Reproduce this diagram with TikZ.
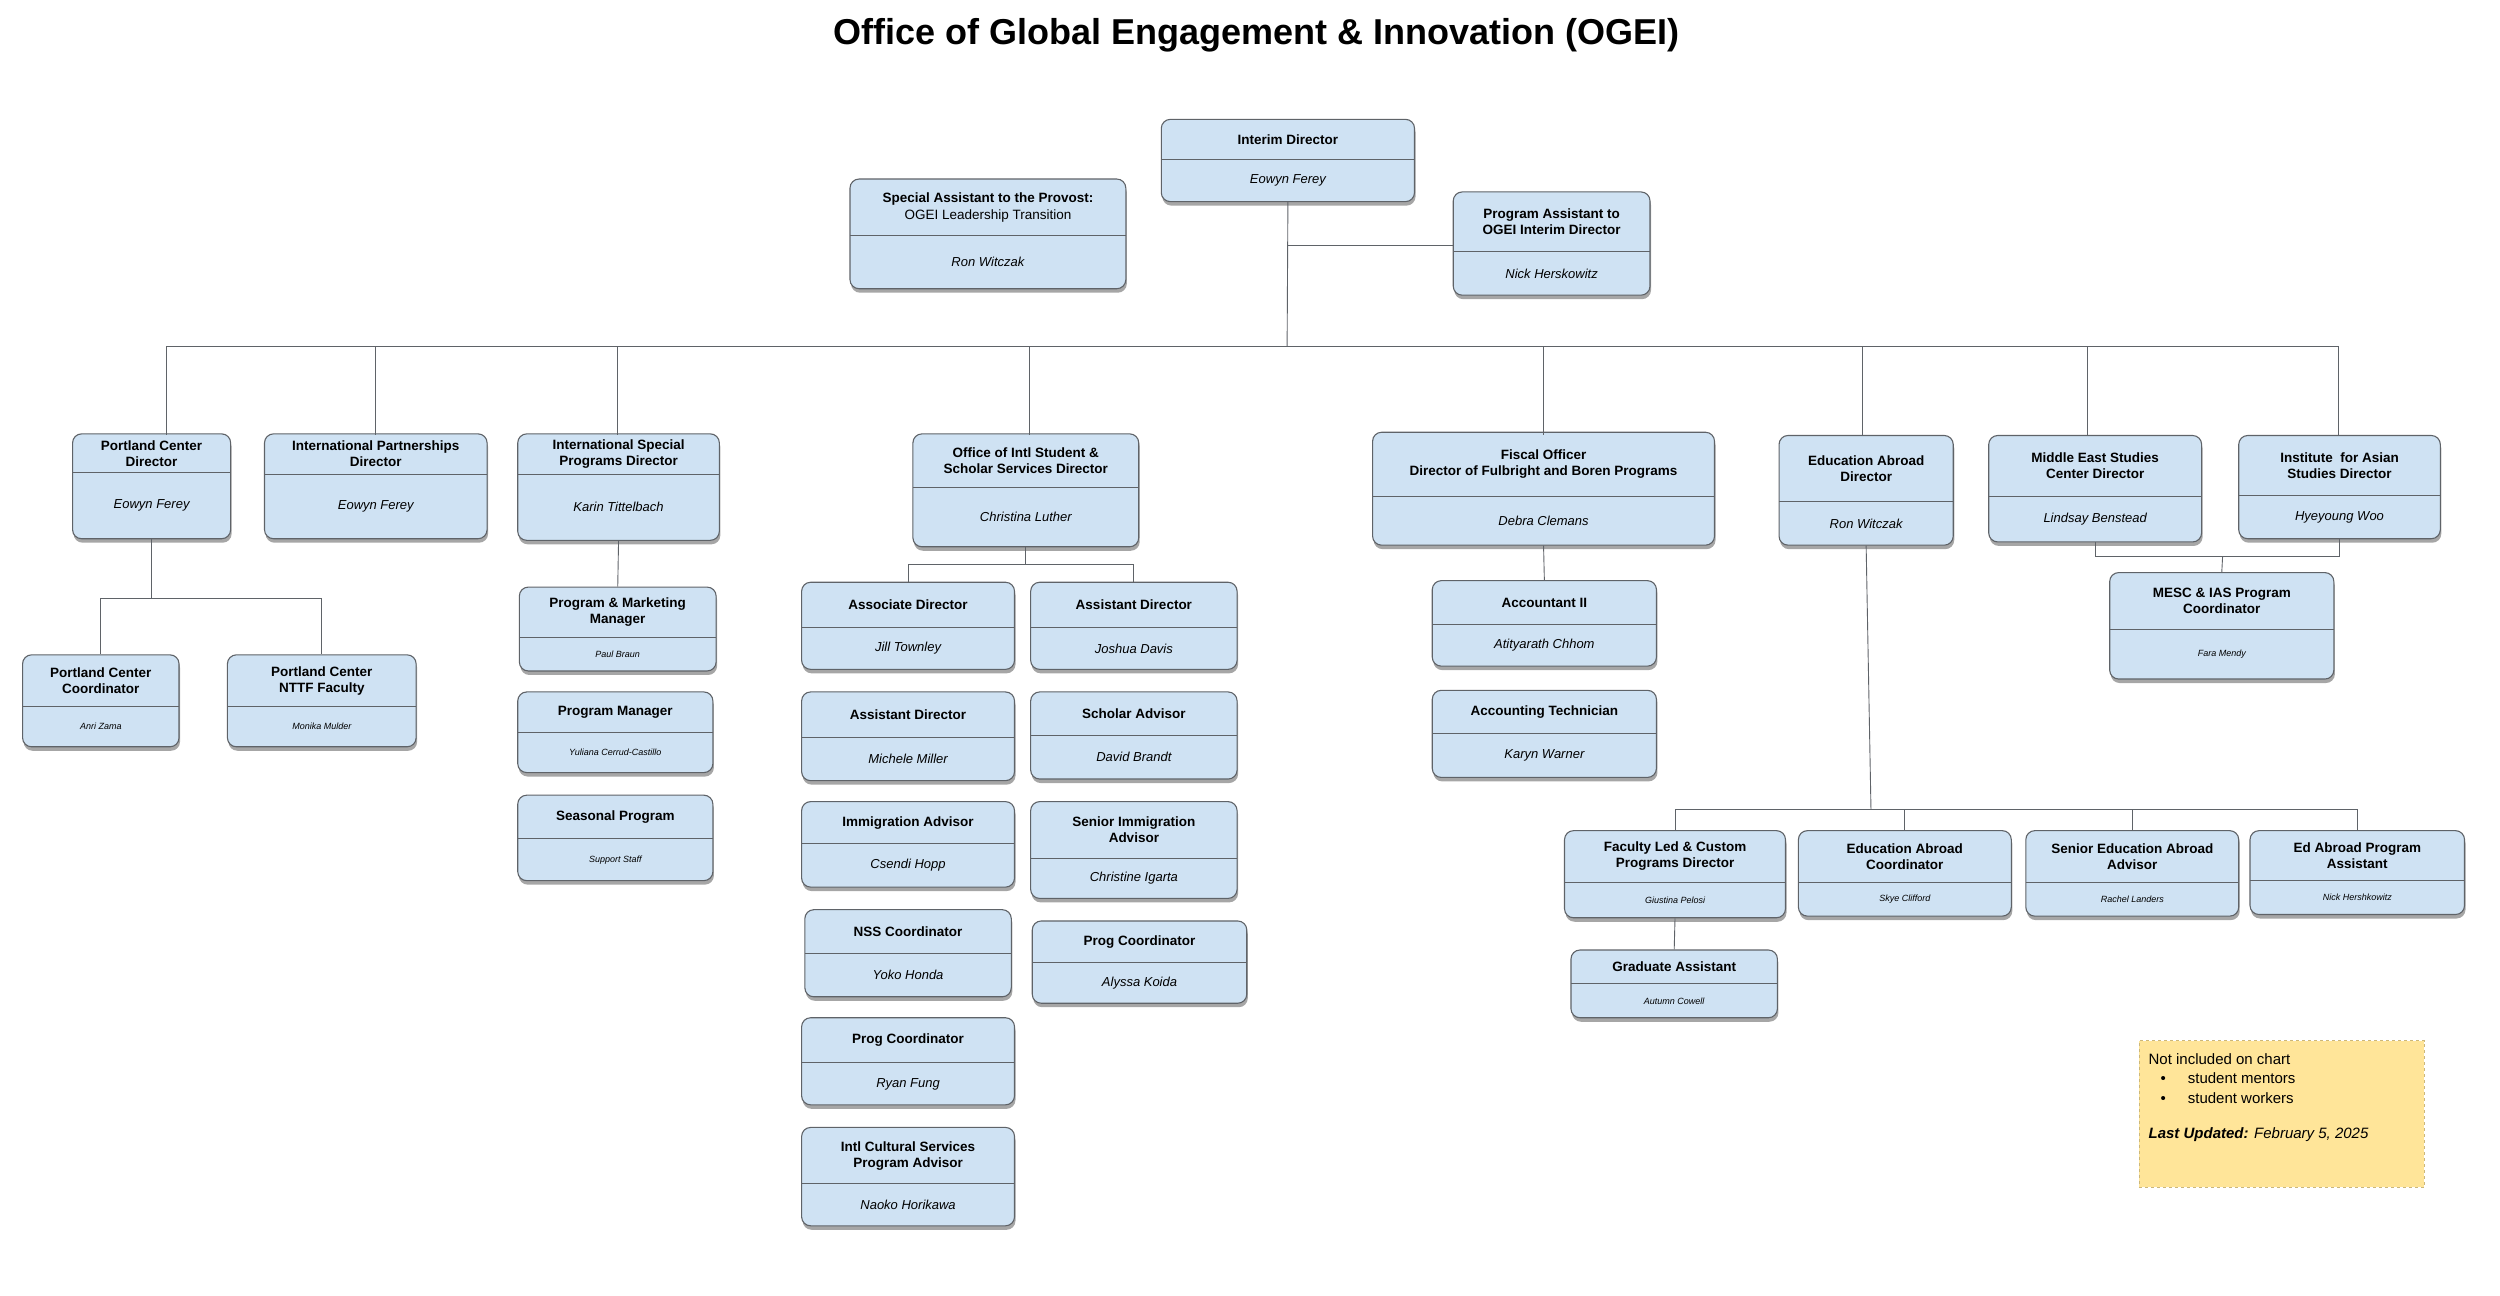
\documentclass[tikz,border=0pt]{standalone}
\usepackage{fontspec}
\setmainfont{Liberation Sans}
\usetikzlibrary{fit,shadows}
\definecolor{boxfill}{HTML}{CFE2F3}
\definecolor{boxline}{HTML}{5F6368}
\definecolor{notefill}{HTML}{FFE599}
\tikzset{
  obx/.style={draw=boxline,line width=1.1pt,fill=boxfill,rounded corners=9pt,inner sep=0pt,
    drop shadow={shadow xshift=1pt,shadow yshift=-4pt,opacity=0.35,fill=black}},
  ttl/.style={align=center,font=\fontsize{13.5}{16}\selectfont\bfseries,inner sep=0pt},
  psn/.style={align=center,font=\fontsize{13}{15}\selectfont\itshape,inner sep=0pt},
  cn/.style={draw=boxline,line width=0.9pt},
}
\newcommand\obox[8]{%
  \coordinate (#1-a) at (#2,#3);
  \coordinate (#1-b) at (#4,#5);
  \node[obx,fit=(#1-a)(#1-b)] (#1) {};
  \draw[draw=boxline,line width=1pt] (#2,#6) -- (#4,#6);
  \pgfmathsetmacro\mx{(#2+#4)/2}%
  \pgfmathsetmacro\ta{(#3+#6)/2}%
  \pgfmathsetmacro\tb{(#6+#5)/2}%
  \node[ttl] (#1-t) at (\mx,\ta) {#7};
  \node[psn] (#1-p) at (\mx,\tb) {#8};
}
\begin{document}
\begin{tikzpicture}[x=1.613pt,y=-1.613pt]
\useasboundingbox (0,0) rectangle (1550,803.5);
\node[font=\fontsize{36}{40}\selectfont\bfseries] (title) at (779,22) {Office of Global Engagement \& Innovation (OGEI)};

\obox{int}{720}{74}{877}{125}{99}{Interim Director}{Eowyn Ferey}
\obox{spa}{527}{111}{698}{179}{146}{Special Assistant to the Provost:\\[1pt]\mdseries OGEI Leadership Transition}{Ron Witczak}
\obox{pa}{901}{119}{1023}{183}{156}{Program Assistant to\\OGEI Interim Director}{Nick Herskowitz}

\obox{pcd}{45}{269}{143}{334}{293}{Portland Center\\Director}{Eowyn Ferey}
\obox{ipd}{164}{269}{302}{334}{294}{International Partnerships\\Director}{Eowyn Ferey}
\obox{isp}{321}{269}{446}{335}{294}{International Special\\Programs Director}{Karin Tittelbach}
\obox{oiss}{566}{269}{706}{339}{302}{Office of Intl Student \&\\Scholar Services Director}{Christina Luther}
\obox{fis}{851}{268}{1063}{338}{308}{Fiscal Officer\\Director of Fulbright and Boren Programs}{Debra Clemans}
\obox{ead}{1103}{270}{1211}{338}{311}{Education Abroad\\Director}{Ron Witczak}
\obox{mes}{1233}{270}{1365}{336}{308}{Middle East Studies\\Center Director}{Lindsay Benstead}
\obox{ias}{1388}{270}{1513}{334}{307}{Institute\ \ for Asian\\Studies Director}{Hyeyoung Woo}

\obox{pcc}{14}{406}{111}{463}{438}{Portland Center\\Coordinator}{\small Anri Zama}
\obox{ntt}{141}{406}{258}{463}{438}{Portland Center\\NTTF Faculty}{\small Monika Mulder}

\obox{pmm}{322}{364}{444}{416}{395}{Program \& Marketing\\Manager}{\small Paul Braun}
\obox{pm}{321}{429}{442}{479}{454}{Program Manager}{\small Yuliana Cerrud-Castillo}
\obox{sea}{321}{493}{442}{546}{520}{Seasonal Program}{\small Support Staff}

\obox{asc}{497}{361}{629}{415}{389}{Associate Director}{Jill Townley}
\obox{asj}{639}{361}{767}{415}{389}{Assistant Director}{Joshua Davis}
\obox{asm}{497}{429}{629}{484}{457}{Assistant Director}{Michele Miller}
\obox{sch}{639}{429}{767}{483}{456}{Scholar Advisor}{David Brandt}
\obox{imm}{497}{497}{629}{550}{523}{Immigration Advisor}{Csendi Hopp}
\obox{sim}{639}{497}{767}{557}{532}{Senior Immigration\\Advisor}{Christine Igarta}
\obox{nss}{499}{564}{627}{618}{591}{NSS Coordinator}{Yoko Honda}
\obox{pca}{640}{571}{773}{622}{597}{Prog Coordinator}{Alyssa Koida}
\obox{pcr}{497}{631}{629}{685}{659}{Prog Coordinator}{Ryan Fung}
\obox{ics}{497}{699}{629}{760}{734}{Intl Cultural Services\\Program Advisor}{Naoko Horikawa}

\obox{acc}{888}{360}{1027}{413}{387}{Accountant II}{Atityarath Chhom}
\obox{act}{888}{428}{1027}{482}{455}{Accounting Technician}{Karyn Warner}

\obox{mia}{1308}{355}{1447}{421}{390}{MESC \& IAS Program\\Coordinator}{\small Fara Mendy}

\obox{fac}{970}{515}{1107}{569}{547}{Faculty Led \& Custom\\Programs Director}{\small Giustina Pelosi}
\obox{eac}{1115}{515}{1247}{568}{547}{Education Abroad\\Coordinator}{\small Skye Clifford}
\obox{sea2}{1256}{515}{1388}{568}{547}{Senior Education Abroad\\Advisor}{\small Rachel Landers}
\obox{eapa}{1395}{515}{1528}{567}{546}{Ed Abroad Program\\Assistant}{\small Nick Hershkowitz}
\obox{ga}{974}{589}{1102}{631}{610}{Graduate Assistant}{\small Autumn Cowell}

% connectors
\coordinate (bus) at (798,215);
\coordinate (pab) at (798,152);
\draw[cn] (int.south) -- (bus);
\draw[cn] (pab) -- (pab -| pa.west);
\draw[cn] (103,215) -- (1450,215);
\foreach \n/\x in {pcd/103,ipd/233,isp/383,oiss/638,fis/957,ead/1155,mes/1294,ias/1450}
  \draw[cn] (\x,215) -- (\x,270);
\draw[cn] (pcd.south) -- (94,371) coordinate (pcj);
\draw[cn] (pcc.north) |- (pcj) -| (ntt.north);
\draw[cn] (isp.south) -- (pmm.north);
\draw[cn] (oiss.south) -- (636,350) coordinate (oj);
\draw[cn] (asc.north) |- (oj) -| (asj.north);
\draw[cn] (fis.south) -- (acc.north);
\draw[cn] (ead.south) -- (1160,502) coordinate (ej);
\draw[cn] (fac.north) |- (ej) -| (eapa.north);
\draw[cn] (eac.north) -- (eac.north |- ej);
\draw[cn] (sea2.north) -- (sea2.north |- ej);
\draw[cn] (fac.south) -- (ga.north);
\draw[cn] (mes.south) |- (1378,345) coordinate (mj);
\draw[cn] (ias.south) |- (mj);
\draw[cn] (mj) -- (mia.north);

% note
\node[fill=notefill,draw=notefill!80!black,line width=0.4pt,dashed,anchor=north west,minimum width=177*1.613pt,minimum height=91*1.613pt,inner sep=0pt] (note) at (1326,645) {};
\node[anchor=north west,align=left,font=\fontsize{15}{19.5}\selectfont,inner sep=0pt] (notet) at (1332,653)
  {Not included on chart\\
   \hspace*{12pt}\textbullet\hspace{22pt}student mentors\\
   \hspace*{12pt}\textbullet\hspace{22pt}student workers\\[16pt]
   \textbf{\textit{Last Updated:}} \textit{February 5, 2025}};
\end{tikzpicture}
\end{document}
